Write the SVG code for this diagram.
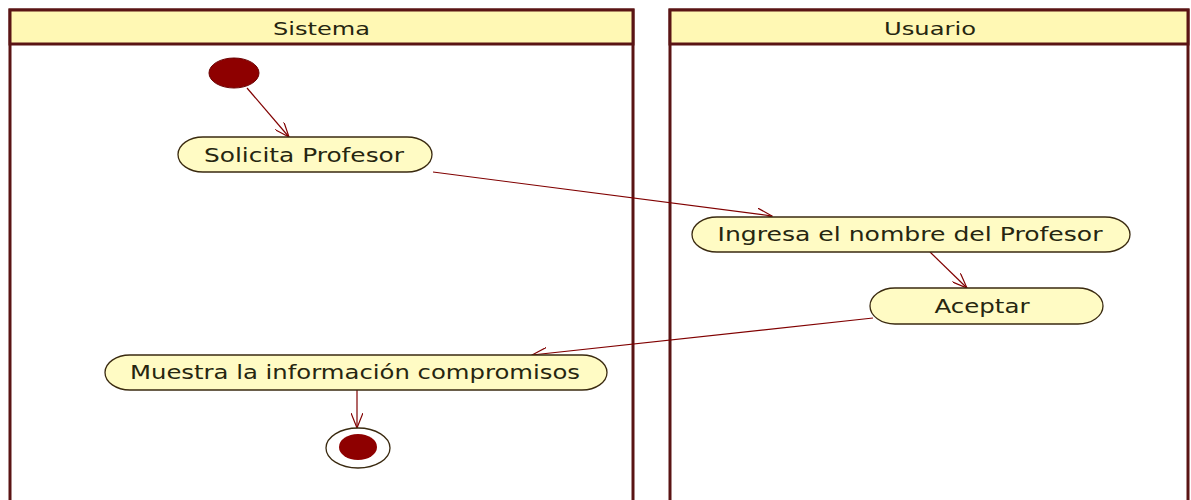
<svg xmlns="http://www.w3.org/2000/svg" width="1191" height="500" viewBox="0 0 1191 500">
<style>
.lane{fill:#ffffff;stroke:#5a1414;stroke-width:3}
.hdr{fill:#fff8b4;stroke:#5a1414;stroke-width:3}
.node{fill:#fffbc4;stroke:#3a2a10;stroke-width:1.3}
.t{font-family:"DejaVu Sans",Verdana,sans-serif;fill:#262610;text-anchor:middle}
.ht{font-size:17px}
.nt{font-size:19px}
.edge{fill:none;stroke:#800000;stroke-width:1.2}
</style>
<defs>
<marker id="arr" viewBox="0 0 16 12" refX="15" refY="6" markerWidth="16" markerHeight="12" markerUnits="userSpaceOnUse" orient="auto">
<path d="M0,0 L15,6 L0,12" fill="none" stroke="#800000" stroke-width="1.2"/>
</marker>
</defs>
<g id="lane-sistema">
<rect class="lane" x="10" y="10" width="623" height="500"/>
<rect class="hdr" x="10" y="10" width="623" height="34"/>
<text class="t ht" x="321.5" y="35" textLength="97" lengthAdjust="spacingAndGlyphs">Sistema</text>
</g>
<g id="lane-usuario">
<rect class="lane" x="670" y="10" width="518" height="500"/>
<rect class="hdr" x="670" y="10" width="518" height="34"/>
<text class="t ht" x="930" y="35" textLength="92" lengthAdjust="spacingAndGlyphs">Usuario</text>
</g>
<g id="connectors">
<line class="edge" x1="247" y1="88" x2="289" y2="137" marker-end="url(#arr)"/>
<line class="edge" x1="433" y1="172" x2="772" y2="216" marker-end="url(#arr)"/>
<line class="edge" x1="930" y1="252" x2="967" y2="288" marker-end="url(#arr)"/>
<line class="edge" x1="873" y1="318" x2="532" y2="355" marker-end="url(#arr)"/>
<line class="edge" x1="357" y1="390" x2="357" y2="428" marker-end="url(#arr)"/>
</g>
<g id="initial">
<ellipse cx="234" cy="73" rx="25" ry="15" fill="#8e0000" stroke="#6a0000" stroke-width="1"/>
</g>
<g id="solicita">
<rect class="node" x="178" y="137" width="254" height="35" rx="25" ry="17.5"/>
<text class="t nt" x="304" y="162" textLength="200" lengthAdjust="spacingAndGlyphs">Solicita Profesor</text>
</g>
<g id="ingresa">
<rect class="node" x="692" y="217" width="438" height="35" rx="25" ry="17.5"/>
<text class="t nt" x="910" y="241" textLength="385" lengthAdjust="spacingAndGlyphs">Ingresa el nombre del Profesor</text>
</g>
<g id="aceptar">
<rect class="node" x="870" y="288" width="233" height="36" rx="25" ry="18"/>
<text class="t nt" x="982" y="313" textLength="95" lengthAdjust="spacingAndGlyphs">Aceptar</text>
</g>
<g id="muestra">
<rect class="node" x="105" y="355" width="502" height="35" rx="25" ry="17.5"/>
<text class="t nt" x="355" y="379" textLength="450" lengthAdjust="spacingAndGlyphs">Muestra la información compromisos</text>
</g>
<g id="final">
<ellipse cx="358" cy="448" rx="32" ry="20" fill="#ffffff" stroke="#3a2a10" stroke-width="1.3"/>
<ellipse cx="358" cy="447" rx="19" ry="13" fill="#8e0000"/>
</g>
</svg>
